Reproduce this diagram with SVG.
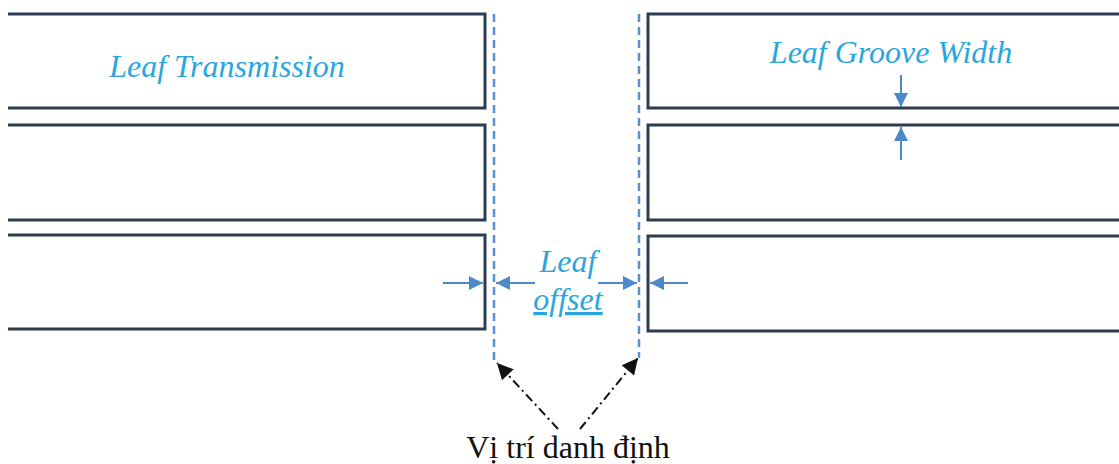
<svg xmlns="http://www.w3.org/2000/svg" width="1119" height="464" viewBox="0 0 1119 464">
  <style>
    .leaf { fill: none; stroke: #2c3d4f; stroke-width: 3; }
    .nominal { fill: none; stroke: #5b8fd0; stroke-width: 2.5; stroke-dasharray: 8 5; }
    .dim { fill: none; stroke: #4f88c9; stroke-width: 2; }
    .pointer { fill: none; stroke: #111; stroke-width: 2; stroke-dasharray: 9 4 2 4; }
    .lbl { font-family: "Liberation Serif", serif; font-style: italic; font-size: 32px; fill: #29a6de; }
    .cap { font-family: "Liberation Serif", serif; font-size: 32px; fill: #111; }
  </style>
  <defs>
    <marker id="blueHead" viewBox="0 0 10 10" refX="10" refY="5" markerWidth="18" markerHeight="14" markerUnits="userSpaceOnUse" orient="auto">
      <path d="M0 0 L10 5 L0 10 Z" fill="#4f88c9"/>
    </marker>
    <marker id="blackHead" viewBox="0 0 10 10" refX="10" refY="5" markerWidth="20" markerHeight="16" markerUnits="userSpaceOnUse" orient="auto">
      <path d="M0 0 L10 5 L0 10 Z" fill="#111"/>
    </marker>
  </defs>

  <rect width="1119" height="464" fill="#fff"/>

  <!-- left bank of leaves -->
  <g id="leaf-left-1">
    <path class="leaf" d="M8 14 H485 V108 H8"/>
    <text class="lbl" x="227" y="77" text-anchor="middle">Leaf Transmission</text>
  </g>
  <g id="leaf-left-2"><path class="leaf" d="M8 125 H485 V220 H8"/></g>
  <g id="leaf-left-3"><path class="leaf" d="M8 235 H485 V329 H8"/></g>

  <!-- right bank of leaves -->
  <g id="leaf-right-1">
    <path class="leaf" d="M1125 14 H648 V108 H1125"/>
    <text class="lbl" x="891" y="63" text-anchor="middle">Leaf Groove Width</text>
  </g>
  <g id="leaf-right-2"><path class="leaf" d="M1125 125 H648 V220 H1125"/></g>
  <g id="leaf-right-3"><path class="leaf" d="M1125 236 H648 V331 H1125"/></g>

  <!-- nominal positions -->
  <g id="nominal-lines">
    <line class="nominal" x1="494" y1="14" x2="494" y2="362"/>
    <line class="nominal" x1="639" y1="14" x2="639" y2="358"/>
  </g>

  <g id="offset-label">
    <text class="lbl" x="568" y="272" text-anchor="middle">Leaf</text>
    <text class="lbl" x="568" y="310" text-anchor="middle" text-decoration="underline">offset</text>
  </g>

  <g id="caption">
    <text class="cap" x="568" y="458" text-anchor="middle">Vị trí danh định</text>
  </g>

  <g id="connectors">
    <!-- leaf offset dimension -->
    <line class="dim" x1="443" y1="283" x2="483" y2="283" marker-end="url(#blueHead)"/>
    <line class="dim" x1="535" y1="283" x2="496" y2="283" marker-end="url(#blueHead)"/>
    <line class="dim" x1="598" y1="283" x2="637" y2="283" marker-end="url(#blueHead)"/>
    <line class="dim" x1="688" y1="283" x2="650" y2="283" marker-end="url(#blueHead)"/>
    <!-- groove width dimension -->
    <line class="dim" x1="901" y1="75" x2="901" y2="107" marker-end="url(#blueHead)"/>
    <line class="dim" x1="901" y1="160" x2="901" y2="127" marker-end="url(#blueHead)"/>
    <!-- pointers to nominal positions -->
    <line class="pointer" x1="558" y1="429" x2="497" y2="363" marker-end="url(#blackHead)"/>
    <line class="pointer" x1="580" y1="429" x2="638" y2="358" marker-end="url(#blackHead)"/>
  </g>
</svg>
